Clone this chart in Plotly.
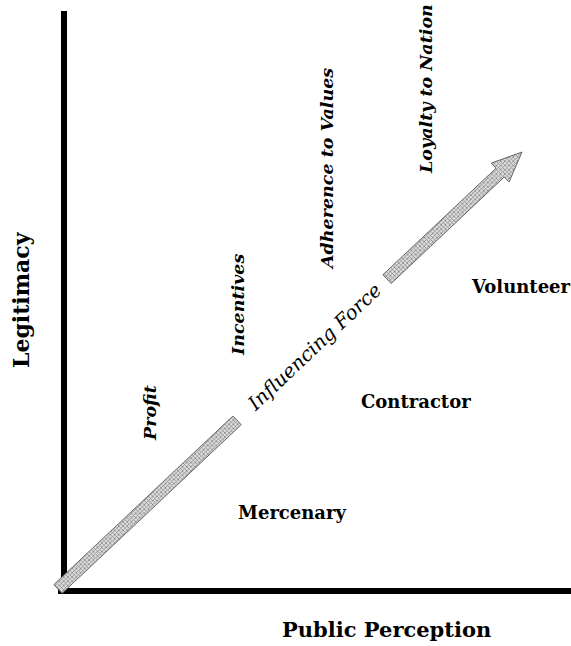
import numpy as np
import plotly.graph_objects as go

# ---- data (diagram coordinates, screen-like: x right, y down) ----
axis_x_line = [58, 571]          # bottom axis extent (x)
axis_x_level = 591
axis_y_line = [11, 592]          # left axis extent (y)
axis_y_level = 64

axis_titles = ["Public Perception", "Legitimacy"]

motive_labels = ["Profit", "Incentives", "Adherence to Values", "Loyalty to Nation"]
motive_x = [150, 238, 327, 426]
motive_y = [413, 305, 169, 89]

actor_labels = ["Mercenary", "Contractor", "Volunteer"]
actor_x = [292, 416, 521]
actor_y = [512, 401, 286]

arrow_start = [58, 589]
arrow_end = [522, 152]
arrow_gap = [246, 452]           # distance along the arrow where the text sits
arrow_label = "Influencing Force"

# ---- figure ----
fig = go.Figure()

# axes
fig.add_trace(go.Scatter(x=[axis_y_level, axis_y_level], y=axis_y_line, mode="lines",
                         line=dict(color="black", width=6), hoverinfo="skip"))
fig.add_trace(go.Scatter(x=axis_x_line, y=[axis_x_level, axis_x_level], mode="lines",
                         line=dict(color="black", width=6), hoverinfo="skip"))

# arrow geometry
p0 = np.array(arrow_start, float)
p1 = np.array(arrow_end, float)
L = np.linalg.norm(p1 - p0)
u = (p1 - p0) / L
n = np.array([-u[1], u[0]])
hw = 6        # shaft half-width
hh = 13       # head half-width
hl = 30       # head length

def P(t, w):
    return p0 + u * t + n * w

def poly(pts):
    xs = [q[0] for q in pts] + [pts[0][0]]
    ys = [q[1] for q in pts] + [pts[0][1]]
    return xs, ys

pattern = dict(shape="x", size=3, solidity=0.45, fgcolor="#333333", bgcolor="#dddddd")

seg1 = [P(0, -hw), P(arrow_gap[0], -hw), P(arrow_gap[0], hw), P(0, hw)]
seg2 = [P(arrow_gap[1], -hw), P(L - hl, -hw), P(L - hl, -hh), P(L, 0),
        P(L - hl, hh), P(L - hl, hw), P(arrow_gap[1], hw)]
for seg in (seg1, seg2):
    xs, ys = poly(seg)
    fig.add_trace(go.Scatter(x=xs, y=ys, mode="lines", fill="toself",
                             fillpattern=pattern, fillcolor="white",
                             line=dict(color="#666666", width=1), hoverinfo="skip"))

mid = p0 + u * (arrow_gap[0] + arrow_gap[1]) / 2
ang = np.degrees(np.arctan2(u[1], u[0]))
fig.add_annotation(x=mid[0] + 2, y=mid[1] - 2, text="<i>" + arrow_label + "</i>",
                   textangle=ang, showarrow=False,
                   font=dict(family="DejaVu Serif", size=19.5, color="black"))

# motive labels (vertical, bold italic)
for t, x, y in zip(motive_labels, motive_x, motive_y):
    fig.add_annotation(x=x, y=y, text="<b><i>" + t + "</i></b>", textangle=-90,
                       showarrow=False, font=dict(family="DejaVu Serif", size=17.5, color="black"))

# actor labels
for t, x, y in zip(actor_labels, actor_x, actor_y):
    fig.add_annotation(x=x, y=y, text="<b>" + t + "</b>", showarrow=False,
                       font=dict(family="DejaVu Serif", size=18, color="black"))

# axis titles
fig.add_annotation(x=386, y=629, text="<b>" + axis_titles[0] + "</b>", showarrow=False,
                   font=dict(family="DejaVu Serif", size=21, color="black"))
fig.add_annotation(x=21, y=300, text="<b>" + axis_titles[1] + "</b>", textangle=-90,
                   showarrow=False, font=dict(family="DejaVu Serif", size=22, color="black"))

fig.update_layout(
    width=571, height=646, margin=dict(l=0, r=0, t=0, b=0),
    paper_bgcolor="white", plot_bgcolor="white", showlegend=False,
    xaxis=dict(range=[0, 571], visible=False, fixedrange=True),
    yaxis=dict(range=[646, 0], visible=False, fixedrange=True),
)

fig.write_html("out.html", config={"displayModeBar": False},
               post_script="document.body.style.margin='0';document.body.style.overflow='hidden';")
